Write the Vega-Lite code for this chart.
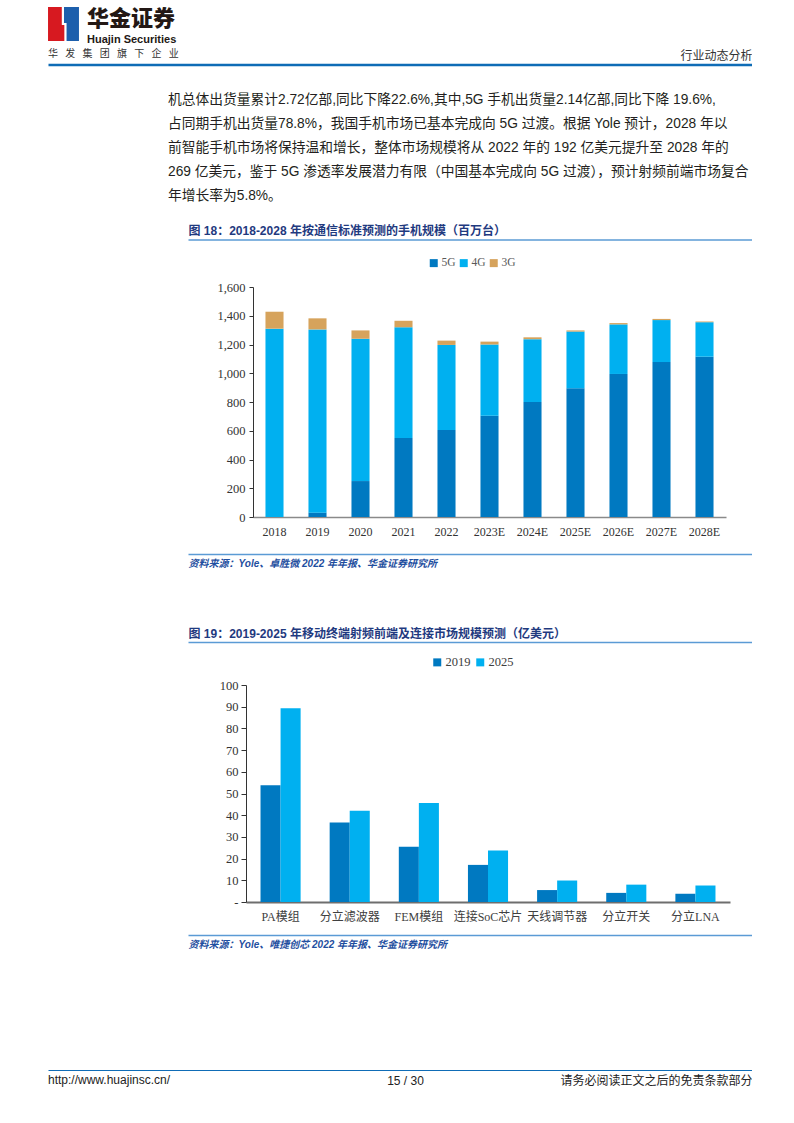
{
  "$schema": "https://vega.github.io/schema/vega-lite/v6.json",
  "background": "white",
  "padding": {"left": 45, "top": 7, "right": 0, "bottom": 0},
  "autosize": {"type": "pad"},
  "bounds": "flush",
  "spacing": 0,
  "config": {
    "view": {"stroke": null},
    "axis": {"grid": false}
  },
  "resolve": {
    "scale": {"color": "independent"},
    "legend": {"color": "independent"}
  },
  "datasets": {
    "one": [{"v": 0}],
    "logo": [{"part": "red"}, {"part": "blue"}],
    "phones": [
      {"year": "2018", "type": "5G", "value": 0},
      {"year": "2018", "type": "4G", "value": 1310},
      {"year": "2018", "type": "3G", "value": 118},
      {"year": "2019", "type": "5G", "value": 30},
      {"year": "2019", "type": "4G", "value": 1275},
      {"year": "2019", "type": "3G", "value": 77},
      {"year": "2020", "type": "5G", "value": 250},
      {"year": "2020", "type": "4G", "value": 990},
      {"year": "2020", "type": "3G", "value": 58},
      {"year": "2021", "type": "5G", "value": 550},
      {"year": "2021", "type": "4G", "value": 770},
      {"year": "2021", "type": "3G", "value": 45},
      {"year": "2022", "type": "5G", "value": 605},
      {"year": "2022", "type": "4G", "value": 592},
      {"year": "2022", "type": "3G", "value": 30},
      {"year": "2023E", "type": "5G", "value": 705},
      {"year": "2023E", "type": "4G", "value": 495},
      {"year": "2023E", "type": "3G", "value": 20},
      {"year": "2024E", "type": "5G", "value": 800},
      {"year": "2024E", "type": "4G", "value": 437},
      {"year": "2024E", "type": "3G", "value": 13},
      {"year": "2025E", "type": "5G", "value": 895},
      {"year": "2025E", "type": "4G", "value": 395},
      {"year": "2025E", "type": "3G", "value": 8},
      {"year": "2026E", "type": "5G", "value": 995},
      {"year": "2026E", "type": "4G", "value": 345},
      {"year": "2026E", "type": "3G", "value": 9},
      {"year": "2027E", "type": "5G", "value": 1078},
      {"year": "2027E", "type": "4G", "value": 292},
      {"year": "2027E", "type": "3G", "value": 8},
      {"year": "2028E", "type": "5G", "value": 1115},
      {"year": "2028E", "type": "4G", "value": 240},
      {"year": "2028E", "type": "3G", "value": 5}
    ],
    "rf": [
      {"cat": "PA模组", "year": "2019", "value": 53.8},
      {"cat": "PA模组", "year": "2025", "value": 89.3},
      {"cat": "分立滤波器", "year": "2019", "value": 36.6},
      {"cat": "分立滤波器", "year": "2025", "value": 42.1},
      {"cat": "FEM模组", "year": "2019", "value": 25.5},
      {"cat": "FEM模组", "year": "2025", "value": 45.6},
      {"cat": "连接SoC芯片", "year": "2019", "value": 17.1},
      {"cat": "连接SoC芯片", "year": "2025", "value": 23.7},
      {"cat": "天线调节器", "year": "2019", "value": 5.5},
      {"cat": "天线调节器", "year": "2025", "value": 9.9},
      {"cat": "分立开关", "year": "2019", "value": 4.2},
      {"cat": "分立开关", "year": "2025", "value": 8.0},
      {"cat": "分立LNA", "year": "2019", "value": 3.8},
      {"cat": "分立LNA", "year": "2025", "value": 7.6}
    ]
  },
  "vconcat": [
    {
      "width": 31,
      "height": 34,
      "data": {"name": "logo"},
      "title": {
        "text": "华金证券",
        "subtitle": "Huajin Securities",
        "orient": "bottom",
        "anchor": "start",
        "frame": "group",
        "offset": -32,
        "dx": 39,
        "font": "Noto Sans CJK SC",
        "fontSize": 22,
        "fontWeight": 900,
        "color": "#231815",
        "subtitleFont": "Liberation Sans",
        "subtitleFontSize": 11,
        "subtitleFontWeight": "bold",
        "subtitleColor": "#231815",
        "subtitlePadding": 3
      },
      "mark": {"type": "point", "size": 1156, "filled": true, "opacity": 1, "strokeWidth": 0},
      "encoding": {
        "shape": {
          "field": "part", "type": "nominal",
          "scale": {"domain": ["red", "blue"], "range": ["M-0.91,-1H-0.1V0.06H0.05V1H-0.91Z", "M0.03,-1H0.91V1H0.18V-0.06H0.03Z"]},
          "legend": null
        },
        "color": {
          "field": "part", "type": "nominal",
          "scale": {"domain": ["red", "blue"], "range": ["#d71920", "#1d5fac"]},
          "legend": null
        }
      }
    },
    {
      "width": 704,
      "height": 23.5,
      "data": {"name": "one"},
      "title": {
        "text": "华\u2002 发\u2002 集\u2002 团\u2002 旗\u2002 下\u2002 企\u2002 业",
        "orient": "bottom",
        "anchor": "start",
        "frame": "group",
        "offset": -16,
        "font": "Noto Sans CJK SC",
        "fontSize": 10,
        "fontWeight": "normal",
        "color": "#333333"
      },
      "mark": {"type": "point", "opacity": 0},
      "encoding": {
        "x": {
          "field": "v", "type": "quantitative",
          "scale": {"domain": [0, 1], "nice": false},
          "axis": {
            "orient": "bottom", "domainColor": "#0f6cb6", "domainWidth": 2.5,
            "ticks": false, "labels": false, "grid": false,
            "title": "行业动态分析", "titleAnchor": "end", "titleAlign": "right",
            "titleBaseline": "top", "titleY": -14,
            "titleFont": "Noto Sans CJK SC", "titleFontSize": 12,
            "titleFontWeight": "normal", "titleColor": "#333333"
          }
        }
      }
    },
    {
      "width": 704,
      "height": 174.5,
      "data": {"name": "one"},
      "title": {
        "text": [
          "机总体出货量累计2.72亿部,同比下降22.6%,其中,5G 手机出货量2.14亿部,同比下降 19.6%,",
          "占同期手机出货量78.8%，我国手机市场已基本完成向 5G 过渡。根据 Yole 预计，2028 年以",
          "前智能手机市场将保持温和增长，整体市场规模将从 2022 年的 192 亿美元提升至 2028 年的",
          "269 亿美元，鉴于 5G 渗透率发展潜力有限（中国基本完成向 5G 过渡），预计射频前端市场复合",
          "年增长率为5.8%。"
        ],
        "orient": "bottom",
        "anchor": "start",
        "frame": "group",
        "offset": -147,
        "dx": 120,
        "font": "Liberation Sans, Noto Sans CJK SC",
        "fontSize": 13.75,
        "lineHeight": 24,
        "fontWeight": "normal",
        "color": "#231f20"
      },
      "mark": {"type": "point", "opacity": 0},
      "encoding": {
        "x": {
          "field": "v", "type": "quantitative",
          "scale": {"domain": [0, 1], "range": [140, 704], "nice": false},
          "axis": {
            "orient": "bottom", "domainColor": "#5b9bd5", "domainWidth": 1.5,
            "ticks": false, "labels": false,
            "title": "图 18：2018-2028 年按通信标准预测的手机规模（百万台）",
            "titleAnchor": "start", "titleAlign": "left",
            "titleBaseline": "top", "titleY": -14,
            "titleFont": "Liberation Sans, Noto Sans CJK SC", "titleFontSize": 12,
            "titleFontWeight": "bold", "titleColor": "#1f3a7f"
          }
        }
      }
    },
    {
      "width": 704,
      "height": 314,
      "data": {"name": "phones"},
      "mark": {"type": "bar"},
      "encoding": {
        "x": {
          "field": "year", "type": "nominal", "sort": null,
          "scale": {"range": [205, 678], "paddingInner": 0.58, "paddingOuter": 0.29},
          "axis": {
            "orient": "bottom", "offset": -37, "title": null,
            "domainColor": "#8a8a8a", "domainWidth": 1.5,
            "ticks": false, "tickSize": 0, "labelAngle": 0,
            "labelFont": "Liberation Serif", "labelFontSize": 12,
            "labelColor": "#333333", "labelPadding": 9.5
          }
        },
        "y": {
          "field": "value", "type": "quantitative", "stack": "zero",
          "scale": {"domain": [0, 1600], "range": [277, 47], "nice": false},
          "axis": {
            "orient": "left", "offset": -205, "title": null,
            "values": [0, 200, 400, 600, 800, 1000, 1200, 1400, 1600],
            "format": ",.0f",
            "domainColor": "#333333", "tickColor": "#333333", "tickSize": 4,
            "labelFont": "Liberation Serif", "labelFontSize": 12.5,
            "labelColor": "#333333", "labelPadding": 4
          }
        },
        "color": {
          "field": "type", "type": "nominal", "sort": ["5G", "4G", "3G"],
          "scale": {"domain": ["5G", "4G", "3G"], "range": ["#0079c1", "#00b0f0", "#d6a35c"]},
          "legend": {
            "orient": "none", "legendX": 380, "legendY": 17,
            "direction": "horizontal", "title": null,
            "symbolType": "square", "symbolSize": 64, "symbolStrokeWidth": 0,
            "labelFont": "Liberation Serif", "labelFontSize": 11.5,
            "labelColor": "#595959", "columnPadding": 2, "labelOffset": 2, "padding": 0
          }
        }
      }
    },
    {
      "width": 704,
      "height": 47,
      "data": {"name": "one"},
      "mark": {"type": "point", "opacity": 0},
      "encoding": {
        "x": {
          "field": "v", "type": "quantitative",
          "scale": {"domain": [0, 1], "range": [140, 704], "nice": false},
          "axis": {
            "orient": "top", "domainColor": "#5b9bd5", "domainWidth": 1.5,
            "ticks": false, "labels": false,
            "title": "资料来源：Yole、卓胜微 2022 年年报、华金证券研究所",
            "titleAnchor": "start", "titleAlign": "left",
            "titleBaseline": "top", "titleY": 4.5,
            "titleFont": "Liberation Sans, Noto Sans CJK SC", "titleFontSize": 10,
            "titleFontWeight": "bold", "titleFontStyle": "italic", "titleColor": "#1f4fa0"
          }
        }
      }
    },
    {
      "width": 704,
      "height": 41,
      "data": {"name": "one"},
      "mark": {"type": "point", "opacity": 0},
      "encoding": {
        "x": {
          "field": "v", "type": "quantitative",
          "scale": {"domain": [0, 1], "range": [140, 704], "nice": false},
          "axis": {
            "orient": "bottom", "domainColor": "#5b9bd5", "domainWidth": 1.5,
            "ticks": false, "labels": false,
            "title": "图 19：2019-2025 年移动终端射频前端及连接市场规模预测（亿美元）",
            "titleAnchor": "start", "titleAlign": "left",
            "titleBaseline": "top", "titleY": -14,
            "titleFont": "Liberation Sans, Noto Sans CJK SC", "titleFontSize": 12,
            "titleFontWeight": "bold", "titleColor": "#1f3a7f"
          }
        }
      }
    },
    {
      "width": 704,
      "height": 293,
      "data": {"name": "rf"},
      "mark": {"type": "bar"},
      "encoding": {
        "x": {
          "field": "cat", "type": "nominal", "sort": null,
          "scale": {"range": [198, 682], "paddingInner": 0.42, "paddingOuter": 0.21},
          "axis": {
            "orient": "bottom", "offset": -33, "title": null,
            "domainColor": "#6e6e6e", "domainWidth": 2,
            "ticks": false, "tickSize": 0, "labelAngle": 0,
            "labelFont": "Liberation Serif, Noto Sans CJK SC", "labelFontSize": 12,
            "labelColor": "#404040", "labelPadding": 9
          }
        },
        "xOffset": {"field": "year", "type": "nominal", "sort": ["2019", "2025"]},
        "y": {
          "field": "value", "type": "quantitative",
          "scale": {"domain": [0, 100], "range": [260, 43], "nice": false},
          "axis": {
            "orient": "left", "offset": -198, "title": null,
            "values": [0, 10, 20, 30, 40, 50, 60, 70, 80, 90, 100],
            "labelExpr": "datum.value === 0 ? '-' : datum.label",
            "domainColor": "#333333", "tickColor": "#333333", "tickSize": 5,
            "labelFont": "Liberation Serif", "labelFontSize": 12.5,
            "labelColor": "#333333", "labelPadding": 3
          }
        },
        "color": {
          "field": "year", "type": "nominal",
          "scale": {"domain": ["2019", "2025"], "range": ["#0079c1", "#00b0f0"]},
          "legend": {
            "orient": "none", "legendX": 383, "legendY": 14,
            "direction": "horizontal", "title": null,
            "symbolType": "square", "symbolSize": 64, "symbolStrokeWidth": 0,
            "labelFont": "Liberation Serif", "labelFontSize": 12.5,
            "labelColor": "#404040", "columnPadding": 3, "labelOffset": 2, "padding": 0
          }
        }
      }
    },
    {
      "width": 704,
      "height": 66,
      "data": {"name": "one"},
      "mark": {"type": "point", "opacity": 0},
      "encoding": {
        "x": {
          "field": "v", "type": "quantitative",
          "scale": {"domain": [0, 1], "range": [140, 704], "nice": false},
          "axis": {
            "orient": "top", "domainColor": "#5b9bd5", "domainWidth": 1.5,
            "ticks": false, "labels": false,
            "title": "资料来源：Yole、唯捷创芯 2022 年年报、华金证券研究所",
            "titleAnchor": "start", "titleAlign": "left",
            "titleBaseline": "top", "titleY": 4.5,
            "titleFont": "Liberation Sans, Noto Sans CJK SC", "titleFontSize": 10,
            "titleFontWeight": "bold", "titleFontStyle": "italic", "titleColor": "#1f4fa0"
          }
        }
      }
    },
    {
      "width": 704,
      "height": 69,
      "data": {"name": "one"},
      "mark": {"type": "point", "opacity": 0},
      "encoding": {
        "x": {
          "field": "v", "type": "quantitative",
          "scale": {"domain": [0, 1], "range": [0, 704], "nice": false},
          "axis": {
            "orient": "bottom", "domainColor": "#0f6cb6", "domainWidth": 1.2,
            "ticks": false, "labels": false,
            "title": "15 / 30",
            "titleX": 357, "titleAlign": "center",
            "titleBaseline": "top", "titleY": 5,
            "titleFont": "Liberation Sans", "titleFontSize": 12,
            "titleFontWeight": "normal", "titleColor": "#222222"
          }
        }
      }
    },
    {
      "width": 704,
      "height": 20,
      "data": {"name": "one"},
      "title": {
        "text": "http://www.huajinsc.cn/",
        "orient": "bottom",
        "anchor": "start",
        "frame": "group",
        "offset": -15,
        "font": "Liberation Sans",
        "fontSize": 12,
        "fontWeight": "normal",
        "color": "#222222"
      },
      "mark": {"type": "point", "opacity": 0},
      "encoding": {
        "x": {
          "field": "v", "type": "quantitative",
          "scale": {"domain": [0, 1], "nice": false},
          "axis": {
            "orient": "bottom", "domain": false, "ticks": false, "labels": false,
            "title": "请务必阅读正文之后的免责条款部分",
            "titleAnchor": "end", "titleAlign": "right",
            "titleBaseline": "top", "titleY": -15,
            "titleFont": "Noto Sans CJK SC", "titleFontSize": 12,
            "titleFontWeight": "normal", "titleColor": "#222222"
          }
        }
      }
    }
  ]
}
